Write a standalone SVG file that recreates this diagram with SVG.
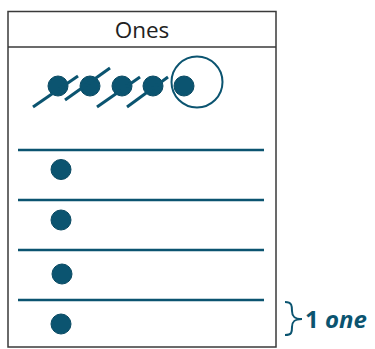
<svg xmlns="http://www.w3.org/2000/svg" width="375" height="349" viewBox="0 0 375 349">
<style>
.box{fill:none;stroke:#3a3a3a;stroke-width:1.5}
.rule{stroke:#0b5470;stroke-width:2.5}
.dot{fill:#0b5470;stroke:#0a4a63;stroke-width:1}
.slash{stroke:#0b5470;stroke-width:3;stroke-linecap:butt}
.lbl{font-family:"Open Sans","Liberation Sans",sans-serif;font-size:22.5px;fill:#222}
.note{font-family:"Open Sans","Liberation Sans",sans-serif;font-size:24px;fill:#0b5470;font-weight:bold}
</style>
<rect width="375" height="349" fill="#fff"/>
<g id="table">
<rect class="box" x="8" y="11.5" width="268" height="335.5"/>
<line class="box" x1="8" y1="47" x2="276" y2="47"/>
<text class="lbl" x="142" y="37.5" text-anchor="middle">Ones</text>
</g>
<g id="top-row">
<circle class="dot" cx="58" cy="86" r="10"/>
<circle class="dot" cx="90" cy="86" r="10"/>
<circle class="dot" cx="122" cy="86" r="10"/>
<circle class="dot" cx="153" cy="86" r="10"/>
<circle class="dot" cx="184" cy="86" r="10"/>
<line class="slash" x1="33" y1="107" x2="78" y2="76"/>
<line class="slash" x1="65" y1="100" x2="110" y2="68"/>
<line class="slash" x1="97" y1="107" x2="140" y2="77"/>
<line class="slash" x1="127" y1="107" x2="168" y2="77"/>
<circle cx="197" cy="82" r="25.5" fill="none" stroke="#0b5470" stroke-width="2"/>
</g>
<g id="rows">
<line class="rule" x1="18" y1="150" x2="264" y2="150"/>
<line class="rule" x1="18" y1="200" x2="264" y2="200"/>
<line class="rule" x1="18" y1="250" x2="264" y2="250"/>
<line class="rule" x1="18" y1="300" x2="264" y2="300"/>
<circle class="dot" cx="61" cy="169.5" r="10"/>
<circle class="dot" cx="61" cy="220" r="10"/>
<circle class="dot" cx="62" cy="274" r="10"/>
<circle class="dot" cx="61" cy="324" r="10"/>
</g>
<g id="brace">
<path d="M285 302 C292 302 292 306 292 311 C292 316 294 319 302 319 C294 319 292 322 292 327 C292 332 292 335 285 335" fill="none" stroke="#0b5470" stroke-width="2"/>
<text class="note" x="305" y="328">1 <tspan font-style="italic">one</tspan></text>
</g>
</svg>
